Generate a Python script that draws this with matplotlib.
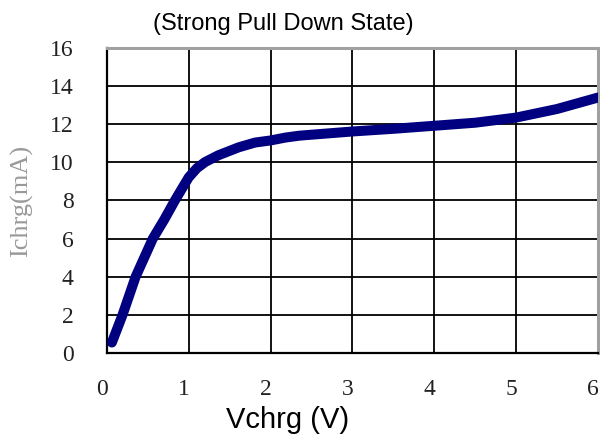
import numpy as np
import matplotlib
matplotlib.use("Agg")
import matplotlib.pyplot as plt
import matplotlib.transforms as mtransforms

# curve
vchrg = [0.06, 0.19, 0.35, 0.56, 0.7, 0.83, 0.92, 1.0, 1.1, 1.2, 1.36,
         1.61, 1.81, 2.0, 2.18, 2.35, 3.0, 3.5, 4.0, 4.5, 5.0, 5.5,
         5.75, 6.0]
ichrg = [0.55, 2.0, 4.0, 6.0, 7.0, 8.0, 8.65, 9.22, 9.7, 10.02, 10.37,
         10.79, 11.04, 11.15, 11.3, 11.4, 11.62, 11.76, 11.92, 12.08,
         12.35, 12.8, 13.1, 13.4]
x_ticks = [0, 1, 2, 3, 4, 5, 6]
y_ticks = [0, 2, 4, 6, 8, 10, 12, 14, 16]

fig = plt.figure(figsize=(6.0, 4.37), dpi=100)
ax = fig.add_axes([0.1783, 0.1922, 0.8183, 0.698])

ax.plot(vchrg, ichrg, color="#000080", linewidth=7.2,
        solid_capstyle="round", solid_joinstyle="round", zorder=3)

ax.set_xlim(0, 6)
ax.set_ylim(0, 16)
ax.set_xticks(x_ticks)
ax.set_yticks(y_ticks)
ax.grid(True, color="black", linewidth=1.3)
ax.set_axisbelow(True)

serif = "Liberation Serif"
ax.tick_params(axis="both", length=0, labelcolor="#222222", labelsize=17)
ax.tick_params(axis="y", pad=24)
ax.tick_params(axis="x", pad=19)
for lab in ax.get_xticklabels() + ax.get_yticklabels():
    lab.set_fontfamily(serif)
# x tick labels sit a little left of the grid lines
shift = mtransforms.ScaledTranslation(-5 / 100, 0, fig.dpi_scale_trans)
for lab in ax.get_xticklabels():
    lab.set_transform(lab.get_transform() + shift)

for side in ["left", "bottom"]:
    ax.spines[side].set_color("black")
    ax.spines[side].set_linewidth(1.6)
for side in ["top", "right"]:
    ax.spines[side].set_color("#a0a0a0")
    ax.spines[side].set_linewidth(2.2)

fig.text(283 / 600, 1 - 24 / 437, "(Strong Pull Down State)",
         family="Liberation Sans", fontsize=17, ha="center", va="center")
fig.text(288 / 600, 1 - 420 / 437, "Vchrg (V)",
         family="Liberation Sans", fontsize=21, ha="center", va="center")
fig.text(22 / 600, 1 - 201 / 437, "Ichrg(mA)", family=serif, fontsize=19,
         color="#999999", rotation=90, ha="center", va="center")

fig.savefig("out.png", dpi=100)
